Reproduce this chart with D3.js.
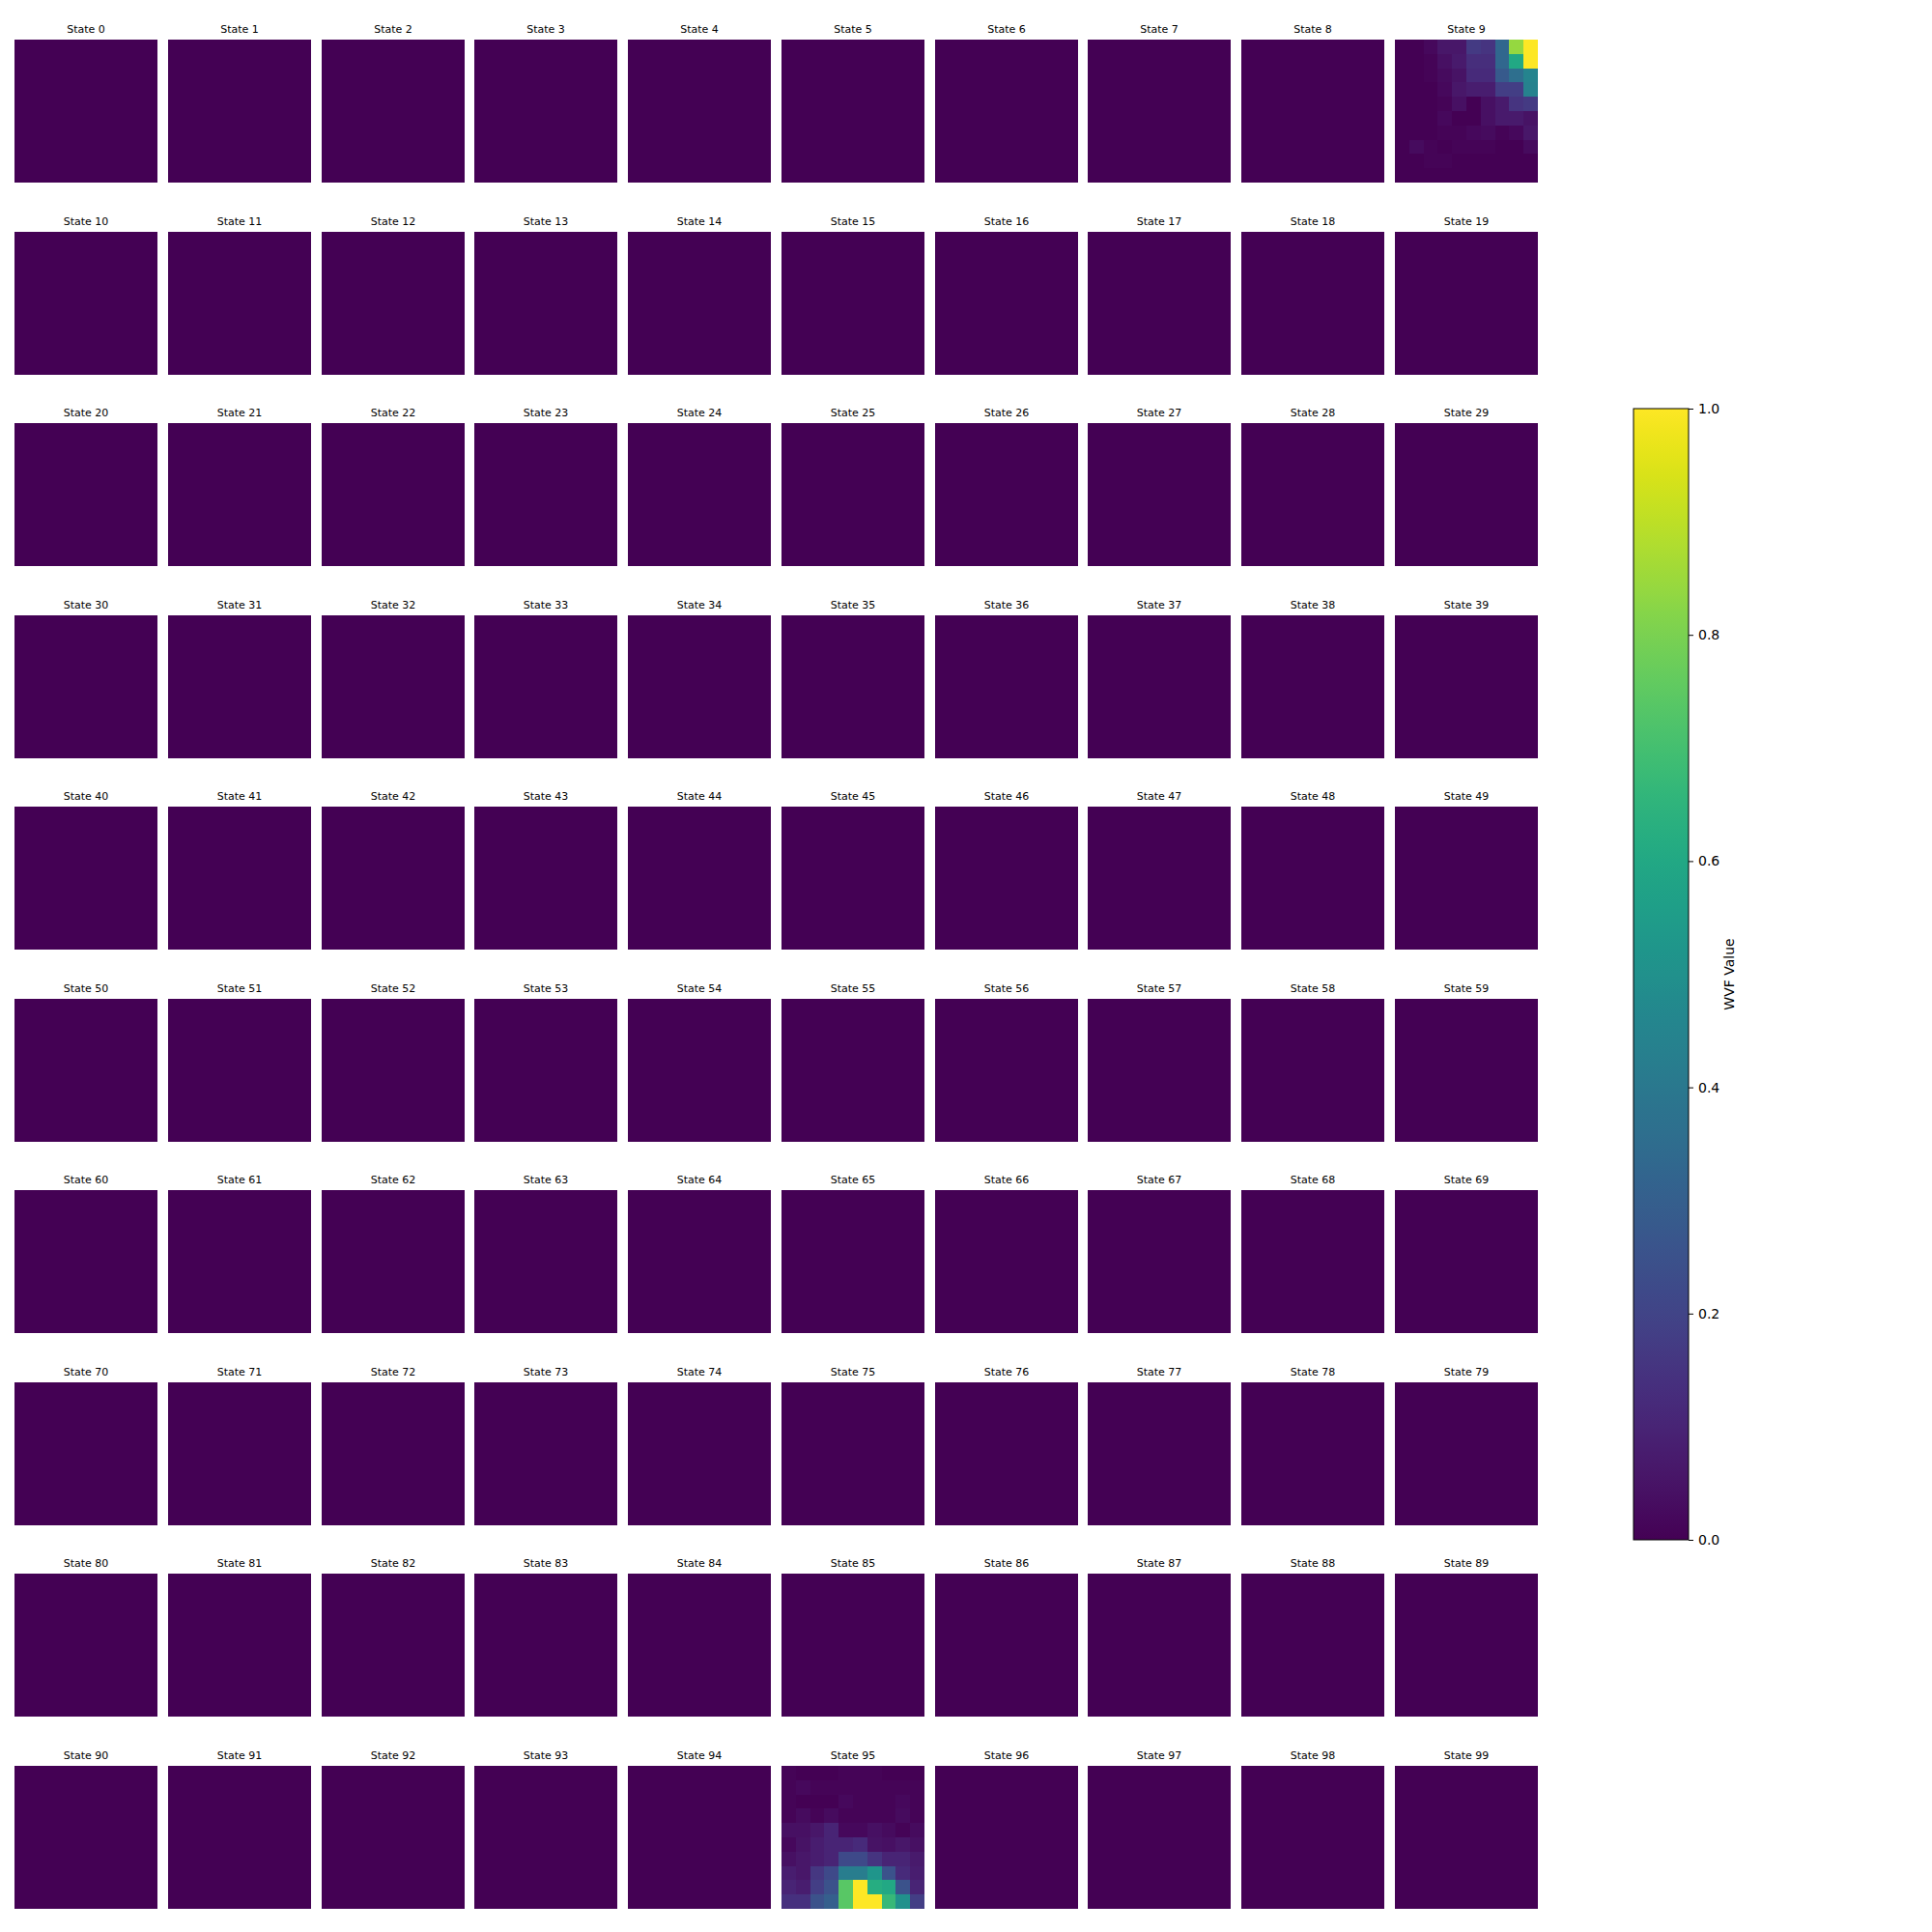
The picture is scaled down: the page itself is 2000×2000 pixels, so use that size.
<!DOCTYPE html>
<html><head><meta charset="utf-8">
<script src="https://cdn.jsdelivr.net/npm/d3@7"></script>
<style>body{margin:0;background:#fff}svg{display:block}text{font-family:"DejaVu Sans",sans-serif}</style>
</head><body>
<svg id="chart" width="2000" height="2000"></svg>
<script>
// ---------- data ----------
const stateIds = [...Array(100).keys()];
const gridCols = 10, gridRows = 10;

// Normalised wave-function values for the two non-empty states (rows top→bottom)
const wvfState9 = [
  [0.00,0.00,0.02,0.06,0.06,0.17,0.15,0.33,0.84,1.00],
  [0.00,0.00,0.01,0.04,0.07,0.13,0.13,0.33,0.60,1.00],
  [0.00,0.00,0.01,0.03,0.05,0.12,0.12,0.28,0.36,0.45],
  [0.00,0.00,0.00,0.02,0.06,0.08,0.08,0.18,0.18,0.44],
  [0.00,0.00,0.00,0.01,0.04,0.00,0.04,0.07,0.15,0.17],
  [0.00,0.00,0.00,0.02,0.00,0.00,0.04,0.07,0.07,0.05],
  [0.00,0.00,0.00,0.01,0.01,0.02,0.03,0.01,0.02,0.06],
  [0.00,0.03,0.01,0.00,0.01,0.01,0.01,0.00,0.00,0.03],
  [0.00,0.00,0.01,0.01,0.00,0.00,0.00,0.00,0.00,0.00],
  [0.00,0.00,0.00,0.00,0.00,0.00,0.00,0.00,0.00,0.00]
];
const wvfState95 = [
  [0.01,0.00,0.00,0.00,0.01,0.01,0.01,0.00,0.00,0.00],
  [0.01,0.02,0.01,0.01,0.01,0.01,0.01,0.01,0.01,0.01],
  [0.01,0.00,0.00,0.00,0.02,0.01,0.01,0.01,0.02,0.01],
  [0.01,0.03,0.01,0.03,0.01,0.01,0.01,0.01,0.03,0.01],
  [0.04,0.04,0.06,0.10,0.02,0.02,0.04,0.03,0.01,0.03],
  [0.02,0.05,0.08,0.10,0.10,0.12,0.05,0.04,0.06,0.04],
  [0.04,0.06,0.08,0.10,0.22,0.22,0.15,0.10,0.10,0.07],
  [0.08,0.06,0.16,0.22,0.42,0.42,0.52,0.25,0.12,0.08],
  [0.10,0.08,0.18,0.25,0.74,1.00,0.62,0.60,0.25,0.10],
  [0.14,0.14,0.25,0.30,0.74,1.00,1.00,0.67,0.50,0.18]
];
const emptyGrid = [
  [0,0,0,0,0,0,0,0,0,0],[0,0,0,0,0,0,0,0,0,0],[0,0,0,0,0,0,0,0,0,0],
  [0,0,0,0,0,0,0,0,0,0],[0,0,0,0,0,0,0,0,0,0],[0,0,0,0,0,0,0,0,0,0],
  [0,0,0,0,0,0,0,0,0,0],[0,0,0,0,0,0,0,0,0,0],[0,0,0,0,0,0,0,0,0,0],
  [0,0,0,0,0,0,0,0,0,0]
];
const nonEmptyStates = {9: wvfState9, 95: wvfState95};
const colorbarTicks = [0.0, 0.2, 0.4, 0.6, 0.8, 1.0];
const colorbarLabel = "WVF Value";

// ---------- layout ----------
const svg = d3.select("#chart");
const panelSize = 148;
const colX = d3.scaleLinear().domain([0, 9]).range([15, 1444]);
const rowY = d3.scaleLinear().domain([0, 9]).range([41, 1828]);
const cellX = d3.scaleBand().domain(d3.range(gridCols)).range([0, panelSize]);
const cellY = d3.scaleBand().domain(d3.range(gridRows)).range([0, panelSize]);
const color = d3.scaleSequential(d3.interpolateViridis).domain([0, 1]);

const panels = svg.selectAll("g.panel").data(stateIds).join("g")
  .attr("class", "panel")
  .attr("transform", d => `translate(${Math.round(colX(d % 10))},${Math.round(rowY(Math.floor(d / 10)))})`);

panels.each(function(d) {
  const g = d3.select(this);
  const grid = nonEmptyStates[d] || emptyGrid;
  const cells = [];
  grid.forEach((row, r) => row.forEach((v, c) => cells.push({r, c, v})));
  const x0 = c => Math.round(cellX(c)), y0 = r => Math.round(cellY(r));
  const x1 = c => Math.round(cellX(c) + cellX.bandwidth()), y1 = r => Math.round(cellY(r) + cellY.bandwidth());
  g.selectAll("rect").data(cells).join("rect")
    .attr("x", e => x0(e.c)).attr("y", e => y0(e.r))
    .attr("width", e => x1(e.c) - x0(e.c)).attr("height", e => y1(e.r) - y0(e.r))
    .attr("shape-rendering", "crispEdges")
    .attr("fill", e => color(e.v));
  g.append("text")
    .attr("x", panelSize / 2).attr("y", -7)
    .attr("text-anchor", "middle")
    .attr("font-size", 11).attr("fill", "#000")
    .text(`State ${d}`);
});

// ---------- colorbar ----------
const cbX = 1691, cbW = 57, cbTop = 423, cbBot = 1594;
const cbScale = d3.scaleLinear().domain([0, 1]).range([cbBot, cbTop]);
const defs = svg.append("defs");
const grad = defs.append("linearGradient").attr("id", "cbgrad")
  .attr("x1", 0).attr("y1", 1).attr("x2", 0).attr("y2", 0);
d3.range(0, 1.0001, 0.02).forEach(t => {
  grad.append("stop").attr("offset", t).attr("stop-color", color(t));
});
svg.append("rect").attr("x", cbX).attr("y", cbTop).attr("width", cbW).attr("height", cbBot - cbTop)
  .attr("fill", "url(#cbgrad)").attr("stroke", "#000").attr("stroke-width", 1);

const cbAxis = d3.axisRight(cbScale).tickValues(colorbarTicks).tickFormat(d3.format(".1f")).tickSize(5).tickPadding(5);
const ax = svg.append("g").attr("transform", `translate(${cbX + cbW},0)`).call(cbAxis);
ax.select(".domain").remove();
ax.selectAll("text").attr("font-size", 14).attr("font-family", "DejaVu Sans, sans-serif").attr("fill", "#000");
ax.selectAll("line").attr("stroke", "#000");

svg.append("text")
  .attr("transform", `translate(1795,${(cbTop + cbBot) / 2}) rotate(-90)`)
  .attr("text-anchor", "middle").attr("font-size", 14).attr("fill", "#000")
  .text(colorbarLabel);
</script>
</body></html>
